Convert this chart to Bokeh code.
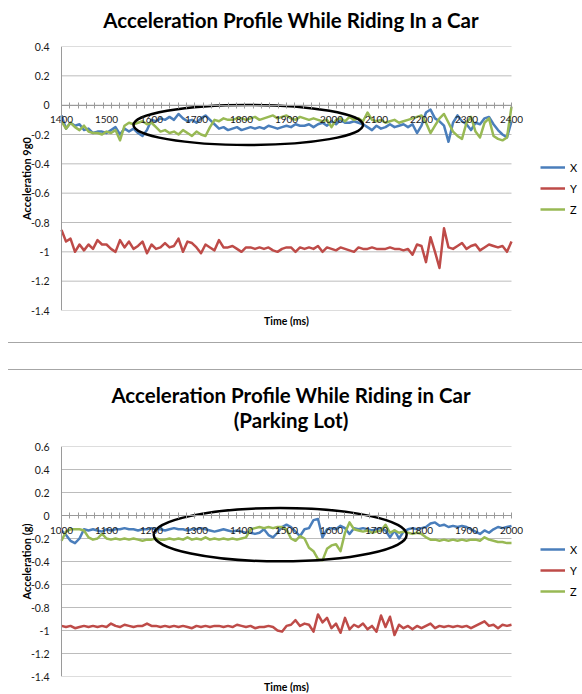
from bokeh.plotting import figure
from bokeh.models import (Range1d, FixedTicker, NumeralTickFormatter, Legend,
                          LegendItem, Title, Div, Span)
from bokeh.layouts import column
from bokeh.embed import file_html
from bokeh.resources import INLINE

FONT = "Lato"
BLUE, RED, GREEN = "#4a7ebb", "#be4b48", "#98b954"
GRID = "#bcbcbc"
AXIS = "#9a9a9a"

# ---------------- Chart 1 : riding in a car ----------------
title1 = "Acceleration Profile While Riding In a Car"
ylabel1 = "Acceleration 9g0"
xlabel = "Time (ms)"
t1 = list(range(1400, 2401, 10))
x1 = [-0.07, -0.16, -0.12, -0.14, -0.13, -0.17, -0.16, -0.19, -0.18, -0.18,
      -0.19, -0.17, -0.15, -0.20, -0.16, -0.18, -0.16, -0.19, -0.21, -0.17,
      -0.10, -0.11, -0.09, -0.10, -0.08, -0.10, -0.06, -0.09, -0.11, -0.10,
      -0.12, -0.09, -0.07, -0.10, -0.13, -0.16, -0.15, -0.17, -0.16, -0.15,
      -0.17, -0.16, -0.15, -0.16, -0.15, -0.16, -0.14, -0.15, -0.16, -0.15,
      -0.14, -0.15, -0.13, -0.14, -0.14, -0.13, -0.15, -0.13, -0.12, -0.14,
      -0.11, -0.13, -0.10, -0.12, -0.12, -0.11, -0.12, -0.13, -0.15, -0.17,
      -0.14, -0.16, -0.15, -0.13, -0.15, -0.14, -0.13, -0.15, -0.13, -0.19,
      -0.14, -0.05, -0.03, -0.09, -0.11, -0.14, -0.25, -0.12, -0.07, -0.11,
      -0.13, -0.17, -0.12, -0.13, -0.09, -0.08, -0.13, -0.17, -0.20, -0.22,
      -0.11]
y1 = [-0.85, -0.93, -0.91, -1.00, -0.95, -0.99, -0.95, -0.98, -0.92, -0.95,
      -0.95, -0.98, -1.00, -0.92, -0.97, -0.93, -0.98, -0.96, -0.93, -1.01,
      -0.95, -0.98, -0.97, -0.94, -0.97, -0.96, -0.91, -1.00, -0.93, -0.94,
      -0.97, -1.01, -0.95, -0.97, -0.99, -0.92, -0.97, -0.97, -0.96, -0.98,
      -1.00, -0.97, -0.97, -0.98, -0.97, -0.98, -0.97, -0.99, -1.00, -0.98,
      -0.97, -0.97, -1.00, -0.97, -0.98, -0.97, -0.98, -0.96, -1.00, -0.97,
      -0.98, -0.99, -0.97, -0.98, -0.99, -1.00, -0.97, -0.98, -0.98, -0.97,
      -0.98, -0.98, -0.98, -0.97, -0.98, -0.98, -0.99, -0.98, -1.02, -0.95,
      -0.96, -1.07, -0.90, -1.00, -1.11, -0.84, -0.97, -0.98, -0.96, -0.94,
      -0.98, -0.96, -0.95, -0.99, -0.97, -0.95, -0.96, -0.97, -0.96, -1.00,
      -0.93]
z1 = [-0.11, -0.16, -0.12, -0.15, -0.17, -0.14, -0.18, -0.19, -0.19, -0.20,
      -0.18, -0.19, -0.17, -0.24, -0.14, -0.12, -0.13, -0.12, -0.11, -0.13,
      -0.12, -0.15, -0.18, -0.17, -0.19, -0.18, -0.20, -0.17, -0.19, -0.21,
      -0.18, -0.20, -0.21, -0.15, -0.10, -0.11, -0.09, -0.10, -0.10, -0.09,
      -0.09, -0.10, -0.09, -0.08, -0.10, -0.09, -0.08, -0.07, -0.09, -0.08,
      -0.07, -0.09, -0.10, -0.08, -0.09, -0.10, -0.09, -0.10, -0.11, -0.10,
      -0.15, -0.10, -0.09, -0.11, -0.08, -0.10, -0.09, -0.11, -0.05, -0.10,
      -0.11, -0.10, -0.12, -0.11, -0.10, -0.12, -0.11, -0.10, -0.09, -0.08,
      -0.07, -0.12, -0.19, -0.14, -0.09, -0.06, -0.12, -0.18, -0.21, -0.23,
      -0.12, -0.08, -0.18, -0.22, -0.12, -0.09, -0.21, -0.23, -0.24, -0.22,
      -0.01]
xticks1 = list(range(1400, 2401, 100))
yticks1 = [0.4, 0.2, 0, -0.2, -0.4, -0.6, -0.8, -1, -1.2, -1.4]
# highlight ellipse: centre (ms, g), width (ms), height (g)
ell1 = (1815, -0.135, 510, 0.273)

# ---------------- Chart 2 : parking lot ----------------
title2 = ["Acceleration Profile While Riding in Car", "(Parking Lot)"]
ylabel2 = "Acceleration (g)"
t2 = list(range(1000, 2001, 10))
x2 = [-0.13, -0.17, -0.22, -0.24, -0.20, -0.12, -0.13, -0.12, -0.13, -0.14,
      -0.12, -0.13, -0.12, -0.12, -0.11, -0.12, -0.12, -0.13, -0.12, -0.12,
      -0.11, -0.12, -0.12, -0.13, -0.12, -0.11, -0.12, -0.12, -0.13, -0.12,
      -0.12, -0.11, -0.12, -0.13, -0.14, -0.13, -0.12, -0.13, -0.14, -0.13,
      -0.14, -0.15, -0.15, -0.16, -0.15, -0.12, -0.17, -0.19, -0.15, -0.10,
      -0.08, -0.10, -0.14, -0.18, -0.12, -0.11, -0.04, -0.03, -0.19, -0.12,
      -0.11, -0.12, -0.09, -0.11, -0.16, -0.11, -0.12, -0.11, -0.12, -0.13,
      -0.12, -0.11, -0.13, -0.19, -0.13, -0.20, -0.14, -0.12, -0.11, -0.12,
      -0.11, -0.10, -0.07, -0.06, -0.09, -0.08, -0.10, -0.09, -0.10, -0.09,
      -0.10, -0.12, -0.14, -0.16, -0.13, -0.15, -0.12, -0.10, -0.11, -0.10,
      -0.09]
y2 = [-0.96, -0.97, -0.96, -0.98, -0.97, -0.96, -0.97, -0.96, -0.97, -0.96,
      -0.97, -0.94, -0.96, -0.97, -0.95, -0.96, -0.97, -0.96, -0.96, -0.94,
      -0.96, -0.96, -0.97, -0.96, -0.97, -0.96, -0.97, -0.96, -0.97, -0.98,
      -0.96, -0.97, -0.96, -0.97, -0.96, -0.96, -0.97, -0.96, -0.97, -0.95,
      -0.96, -0.97, -0.96, -0.98, -0.97, -0.97, -0.96, -0.97, -1.00, -1.01,
      -0.96, -0.95, -0.91, -0.96, -0.94, -0.95, -1.01, -0.86, -0.93, -0.89,
      -0.98, -0.94, -1.02, -0.89, -0.99, -0.95, -0.97, -0.94, -0.99, -0.96,
      -1.01, -0.87, -0.97, -0.88, -1.04, -0.95, -0.98, -0.96, -0.99, -0.96,
      -0.98, -0.96, -0.94, -0.98, -0.96, -0.97, -0.96, -0.97, -0.96, -0.97,
      -0.96, -0.98, -0.96, -0.94, -0.92, -0.96, -0.95, -0.98, -0.95, -0.96,
      -0.95]
z2 = [-0.22, -0.14, -0.12, -0.12, -0.12, -0.13, -0.19, -0.21, -0.20, -0.16,
      -0.20, -0.21, -0.20, -0.21, -0.20, -0.21, -0.20, -0.21, -0.22, -0.21,
      -0.21, -0.20, -0.21, -0.21, -0.20, -0.21, -0.20, -0.21, -0.19, -0.21,
      -0.20, -0.21, -0.19, -0.21, -0.20, -0.21, -0.20, -0.21, -0.20, -0.21,
      -0.20, -0.19, -0.12, -0.11, -0.10, -0.11, -0.10, -0.11, -0.10, -0.10,
      -0.12, -0.20, -0.22, -0.18, -0.20, -0.28, -0.31, -0.38, -0.39, -0.29,
      -0.26, -0.25, -0.31, -0.15, -0.06, -0.12, -0.13, -0.14, -0.13, -0.15,
      -0.14, -0.13, -0.08, -0.15, -0.13, -0.15, -0.14, -0.15, -0.16, -0.15,
      -0.16, -0.19, -0.21, -0.21, -0.22, -0.21, -0.22, -0.21, -0.22, -0.21,
      -0.22, -0.21, -0.21, -0.22, -0.19, -0.21, -0.22, -0.23, -0.23, -0.24,
      -0.24]
xticks2 = list(range(1000, 2001, 100))
yticks2 = [0.6, 0.4, 0.2, 0, -0.2, -0.4, -0.6, -0.8, -1, -1.2, -1.4]
ell2 = (1486, -0.167, 562, 0.463)

SERIES = ["X", "Y", "Z"]
COLORS = [BLUE, RED, GREEN]

PAGE_W = 582
PLOT_W = 450      # width of the data area (px)
PAD = 12          # room kept either side so the end tick labels are not cut
LEFT = 49
RIGHT = PAGE_W - LEFT - PLOT_W - 2 * PAD


def title_div(lines, height, pad_top, line_h):
    html = "<br>".join(lines)
    return Div(text=(f'<div style="font-family:{FONT};font-weight:bold;'
                     f'font-size:20.5px;line-height:{line_h}px;color:#000;'
                     f'text-align:center;width:{PAGE_W}px;'
                     f'padding-top:{pad_top}px">{html}</div>'),
               width=PAGE_W, height=height, margin=0)


def make_chart(ylabel, t, series, xticks, yticks, ell, frame_h, border_top,
               border_bottom, xlabel_standoff, legend_y):
    span = xticks[-1] - xticks[0]
    pad = PAD / PLOT_W * span
    p = figure(frame_width=PLOT_W + 2 * PAD, frame_height=frame_h,
               output_backend="svg", toolbar_location=None,
               min_border_left=LEFT, min_border_right=RIGHT,
               min_border_top=border_top, min_border_bottom=border_bottom,
               x_range=Range1d(xticks[0] - pad, xticks[-1] + pad),
               y_range=Range1d(yticks[-1], yticks[0]), margin=0)
    p.outline_line_color = None
    p.background_fill_color = "white"
    p.border_fill_color = "white"

    # x axis crossing at y = 0
    minor = [xticks[0] + span * k / 54 for k in range(55)]
    xa = p.xaxis[0]
    xa.ticker = FixedTicker(ticks=xticks, minor_ticks=minor)
    xa.fixed_location = 0
    xa.bounds = (xticks[0], xticks[-1])
    xa.axis_line_color = AXIS
    xa.major_tick_line_color = None
    xa.major_tick_in = 0
    xa.major_tick_out = 0
    xa.minor_tick_line_color = AXIS
    xa.minor_tick_in = 3
    xa.minor_tick_out = 3
    xa.major_label_standoff = 8
    xa.major_label_text_font = FONT
    xa.major_label_text_font_size = "10px"
    xa.major_label_text_color = "#1a1a1a"

    ya = p.yaxis[0]
    ya.ticker = FixedTicker(ticks=yticks)
    ya.formatter = NumeralTickFormatter(format="0.[0]")
    ya.axis_line_color = None
    ya.major_tick_line_color = None
    ya.major_tick_in = 0
    ya.major_tick_out = 0
    ya.minor_tick_line_color = None
    ya.major_label_standoff = 0
    ya.major_label_text_font = FONT
    ya.major_label_text_font_size = "10.5px"
    ya.major_label_text_color = "#1a1a1a"
    ya.axis_label = ylabel
    ya.axis_label_standoff = -5
    ya.axis_label_text_font = FONT
    ya.axis_label_text_font_size = "11px"
    ya.axis_label_text_font_style = "bold"
    ya.axis_label_text_color = "black"

    # gridlines that stop at the data area, and the vertical axis line
    p.xgrid.visible = False
    p.ygrid.visible = False
    n = len(yticks)
    p.segment(x0=[xticks[0]] * n, x1=[xticks[-1]] * n, y0=yticks, y1=yticks,
              line_color=GRID, line_width=1)
    p.add_layout(Span(location=xticks[0], dimension="height",
                      line_color=AXIS, line_width=1))

    renderers = []
    for vals, col in zip(series, COLORS):
        r = p.line(t, vals, line_color=col, line_width=2.5, line_join="round")
        renderers.append(r)

    cx, cy, w, h = ell
    p.ellipse(x=[cx], y=[cy], width=[w], height=[h], fill_color=None,
              line_color="black", line_width=2.5)

    legend = Legend(items=[LegendItem(label=s, renderers=[r])
                           for s, r in zip(SERIES, renderers)],
                    location=(17, legend_y), orientation="vertical",
                    padding=0, margin=0, spacing=7, glyph_width=25,
                    glyph_height=14, label_height=14, label_standoff=5,
                    label_text_font=FONT, label_text_font_size="11px",
                    label_text_color="black", border_line_color=None,
                    background_fill_alpha=0)
    p.add_layout(legend, "right")

    p.add_layout(Title(text=xlabel, align="center", text_font=FONT,
                       text_font_size="10.5px", text_font_style="bold",
                       text_color="black", standoff=xlabel_standoff), "below")
    return p


head1 = title_div([title1], height=32, pad_top=8, line_h=24)
p1 = make_chart(ylabel1, t1, [x1, y1, z1], xticks1, yticks1, ell1,
                frame_h=264, border_top=14, border_bottom=32,
                xlabel_standoff=5, legend_y=94)
sep = Div(text=('<div style="margin-left:8px;width:574px;height:27px;'
                'border-top:1px solid #a6a6a6"></div>'
                '<div style="margin-left:8px;width:574px;height:0px;'
                'border-top:1px solid #a6a6a6"></div>'),
          width=PAGE_W, height=29, margin=0)
head2 = title_div(title2, height=62, pad_top=12, line_h=25)
p2 = make_chart(ylabel2, t2, [x2, y2, z2], xticks2, yticks2, ell2,
                frame_h=230, border_top=13, border_bottom=18,
                xlabel_standoff=4, legend_y=78)

layout = column(head1, p1, sep, head2, p2, spacing=0)
open("out.html", "w").write(file_html(layout, INLINE))
